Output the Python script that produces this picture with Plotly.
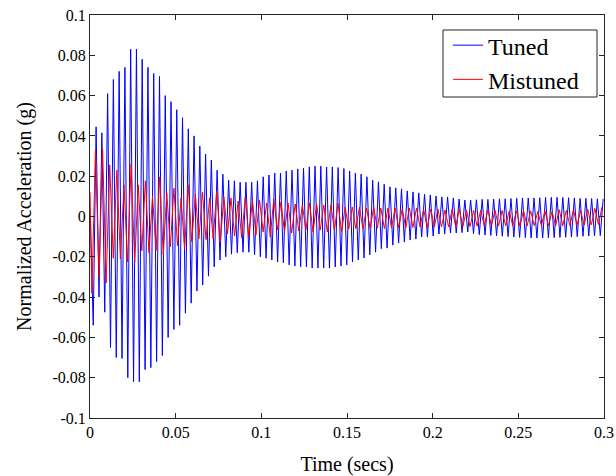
import numpy as np
import plotly.graph_objects as go

# ---- data ----
# Tuned (blue): successive peaks and troughs, sampled every half-period
tuned_t0 = 0.0002
tuned_half_period = 0.0016815
tuned_peaks = [0.0, 0.0445, 0.0415, 0.061, 0.068, 0.072, 0.074, 0.083, 0.083, 0.078,
               0.074, 0.071, 0.0695, 0.060, 0.057, 0.053, 0.049, 0.0435, 0.040, 0.035,
               0.031, 0.028, 0.023, 0.021, 0.018, 0.0177, 0.017, 0.017, 0.017, 0.0177,
               0.0197, 0.0206, 0.0216, 0.0216, 0.0226, 0.023, 0.0236, 0.024, 0.0246, 0.025,
               0.025, 0.0246, 0.0246, 0.0243, 0.0238, 0.0226, 0.0216, 0.021, 0.0197, 0.018,
               0.0172, 0.016, 0.0147, 0.0142, 0.0137, 0.0127, 0.0122, 0.0117, 0.011, 0.0107,
               0.0102, 0.0097, 0.0097, 0.0092, 0.0087, 0.0082, 0.0082, 0.0083, 0.0085, 0.0085,
               0.0086, 0.0088, 0.0088, 0.0089, 0.009, 0.0092, 0.0092, 0.0092, 0.0093, 0.0095,
               0.0095, 0.0095, 0.0094, 0.0093, 0.0092, 0.009, 0.009, 0.0089, 0.0088, 0.0087]
tuned_troughs = [-0.054, -0.040, -0.0475, -0.065, -0.070, -0.0705, -0.080, -0.082, -0.082, -0.076,
                 -0.075, -0.072, -0.069, -0.060, -0.056, -0.054, -0.048, -0.043, -0.037, -0.034,
                 -0.0296, -0.025, -0.0216, -0.020, -0.0187, -0.018, -0.0177, -0.0177, -0.019, -0.020,
                 -0.0207, -0.0216, -0.0226, -0.023, -0.024, -0.0246, -0.025, -0.025, -0.0256, -0.0256,
                 -0.0256, -0.0256, -0.025, -0.0246, -0.024, -0.0226, -0.0216, -0.0206, -0.019, -0.0177,
                 -0.016, -0.0157, -0.0142, -0.0132, -0.0127, -0.0117, -0.0112, -0.0102, -0.0102, -0.0097,
                 -0.0087, -0.0087, -0.0082, -0.0082, -0.0080, -0.0077, -0.0085, -0.009, -0.0092, -0.0094,
                 -0.0096, -0.0098, -0.010, -0.0102, -0.0104, -0.0105, -0.0106, -0.0107, -0.0107, -0.0106,
                 -0.0105, -0.0104, -0.0103, -0.0102, -0.010, -0.0098, -0.0097, -0.0096, -0.0095]

# Mistuned (red): start value, then alternating trough/peak extremes every half-period
mistuned_start = 0.012
mistuned_t0 = 0.0011
mistuned_half_period = 0.002082
mistuned_extremes = [-0.038, 0.033, -0.030, 0.0336, -0.033, 0.0256, -0.0207, 0.023, -0.021, 0.0157,
                     -0.0226, 0.026, -0.023, 0.0157, -0.017, 0.0177, -0.018, 0.010, -0.017, 0.0197,
                     -0.019, 0.0117, -0.015, 0.014, -0.0145, 0.0092, -0.016, 0.0157, -0.0125, 0.011,
                     -0.011, 0.012, -0.0115, 0.0092, -0.011, 0.0127, -0.0127, 0.0097, -0.0087, 0.0092,
                     -0.0097, 0.0077, -0.0107, 0.0097, -0.0102, 0.0082, -0.0092, 0.0082, -0.0077, 0.0067,
                     -0.0102, 0.0087, -0.0067, 0.0072, -0.0077, 0.0067, -0.0082, 0.0062, -0.0072, 0.0057,
                     -0.0067, 0.0067, -0.0077, 0.0062, -0.0067, 0.0057, -0.0077, 0.0057, -0.0067, 0.0065,
                     -0.0077, 0.0047, -0.0062, 0.0047, -0.0060, 0.0045, -0.0062, 0.0042, -0.0060, 0.0047,
                     -0.0058, 0.0042, -0.006, 0.0042, -0.0057, 0.0042, -0.0055, 0.0037, -0.0057, 0.0042,
                     -0.0055, 0.0042, -0.0052, 0.0037, -0.0055, 0.0037, -0.0052, 0.0037, -0.0052, 0.0032,
                     -0.0052, 0.0037, -0.005, 0.0035, -0.005, 0.0032, -0.005, 0.003, -0.0048, 0.0032,
                     -0.0048, 0.0033, -0.0047, 0.0032, -0.0047, 0.003, -0.0046, 0.0028, -0.0047, 0.0028,
                     -0.0048, 0.003, -0.0047, 0.0028, -0.0045, 0.0025, -0.0045, 0.0028, -0.0046, 0.0025,
                     -0.0047, 0.0034, -0.0046, 0.003, -0.0045, 0.0034, -0.0044, 0.003, -0.0043, 0.0036,
                     -0.0042, 0.004, -0.004, 0.0047]

x_tick_vals = [0, 0.05, 0.1, 0.15, 0.2, 0.25, 0.3]
x_tick_text = ["0", "0.05", "0.1", "0.15", "0.2", "0.25", "0.3"]
y_tick_vals = [-0.1, -0.08, -0.06, -0.04, -0.02, 0, 0.02, 0.04, 0.06, 0.08, 0.1]
y_tick_text = ["-0.1", "-0.08", "-0.06", "-0.04", "-0.02", "0", "0.02", "0.04", "0.06", "0.08", "0.1"]

# ---- assemble series ----
tuned_y = []
for k in range(len(tuned_peaks)):
    tuned_y.append(tuned_peaks[k])
    if k < len(tuned_troughs):
        tuned_y.append(tuned_troughs[k])
tuned_x = tuned_t0 + tuned_half_period * np.arange(len(tuned_y))

mistuned_y = [mistuned_start] + mistuned_extremes
mistuned_x = np.concatenate([[0.0], mistuned_t0 + mistuned_half_period * np.arange(len(mistuned_extremes))])

AX = "#262626"
FONT = "Times New Roman, Liberation Serif, serif"

fig = go.Figure()
fig.add_trace(go.Scatter(x=tuned_x, y=tuned_y, mode="lines", name="Tuned",
                         line=dict(color="#0000ff", width=1)))
fig.add_trace(go.Scatter(x=mistuned_x, y=mistuned_y, mode="lines", name="Mistuned",
                         line=dict(color="#ff0000", width=1)))

axis_common = dict(showline=True, linecolor=AX, linewidth=1, mirror="ticks",
                   ticks="inside", ticklen=5, tickwidth=1, tickcolor=AX,
                   showgrid=False, zeroline=False, automargin=False,
                   tickfont=dict(family=FONT, size=16, color="black"))

# legend frame (drawn as a shape so its size can match the reference)
fig.add_shape(type="rect", xref="paper", yref="paper",
              x0=0.6868, x1=0.9864, y0=0.7965, y1=0.9628,
              line=dict(color=AX, width=1), fillcolor="white", layer="above")

fig.update_layout(
    width=616, height=476,
    margin=dict(l=90, r=12, t=15, b=58),
    paper_bgcolor="white", plot_bgcolor="white",
    font=dict(family=FONT, color="black"),
    showlegend=True,
    legend=dict(x=0.6965, y=0.980, xanchor="left", yanchor="top",
                bgcolor="rgba(0,0,0,0)", borderwidth=0,
                font=dict(family=FONT, size=24, color="black"),
                tracegroupgap=0, itemwidth=30),
    xaxis=dict(range=[0, 0.3], tickvals=x_tick_vals, ticktext=x_tick_text,
               title=dict(text="Time (secs)", font=dict(family=FONT, size=20), standoff=17),
               **axis_common),
    yaxis=dict(range=[-0.1, 0.1], tickvals=y_tick_vals, ticktext=y_tick_text,
               title=dict(text="Normalized Acceleration (g)", font=dict(family=FONT, size=20), standoff=15),
               **axis_common),
)

fig.write_html("out.html")
